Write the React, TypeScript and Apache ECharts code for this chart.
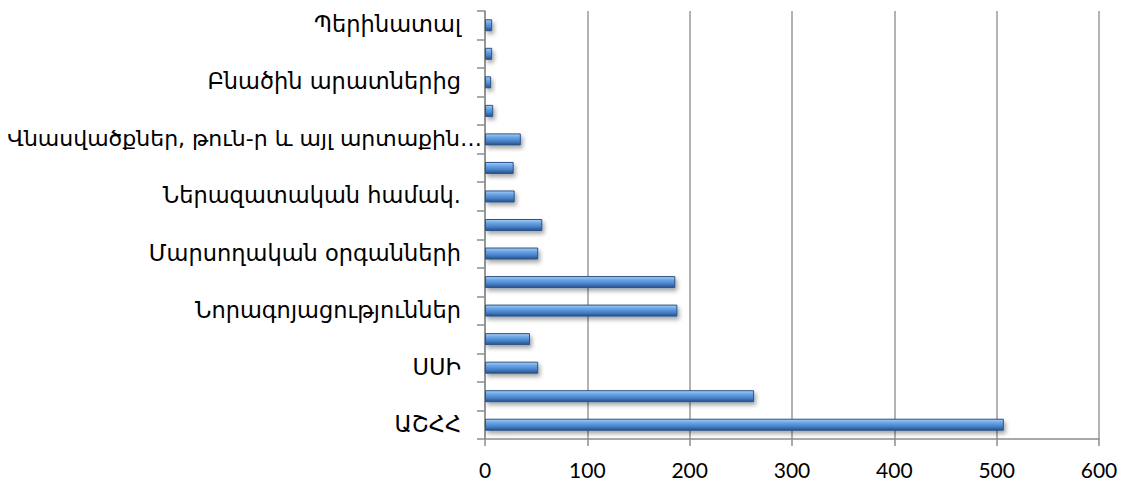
import React, { useEffect, useRef } from "react";
import * as echarts from "echarts";

const categories: string[] = [
  "ԱՇՀՀ",
  "",
  "ՍՍԻ",
  "",
  "Նորագոյացություններ",
  "",
  "Մարսողական օրգանների",
  "",
  "Ներազատական համակ.",
  "",
  "Վնասվածքներ, թուն-ր և այլ արտաքին…",
  "",
  "Բնածին արատներից",
  "",
  "Պերինատալ",
];

const values: number[] = [507, 263, 52, 44, 188, 186, 52, 56, 29, 28, 35, 8, 6, 7, 7];

const xTicks = { min: 0, max: 600, interval: 100 };

export default function App() {
  const ref = useRef<HTMLDivElement>(null);
  useEffect(() => {
    if (!ref.current) return;
    const chart = echarts.init(ref.current, null, { renderer: "svg" });
    const font = "Lato, 'DejaVu Sans', sans-serif";
    const armFont = "'DejaVu Sans', sans-serif";
    chart.setOption({
      animation: false,
      backgroundColor: "#ffffff",
      grid: {
        left: 485,
        right: 26,
        top: 11,
        bottom: 45,
        containLabel: false,
        outerBoundsMode: "none",
      },
      xAxis: {
        type: "value",
        min: xTicks.min,
        max: xTicks.max,
        interval: xTicks.interval,
        axisLine: { show: true, lineStyle: { color: "#8c8c8c", width: 1.5 } },
        axisTick: { show: true, length: 7, lineStyle: { color: "#8c8c8c", width: 1.5 } },
        splitLine: { show: true, lineStyle: { color: "#9a9a9a", width: 1.5 } },
        axisLabel: { color: "#000", fontFamily: font, fontSize: 21, margin: 20 },
      },
      yAxis: {
        type: "category",
        data: categories,
        axisLine: { show: true, lineStyle: { color: "#8c8c8c", width: 1.5 } },
        axisTick: {
          show: true,
          interval: 0,
          length: 8,
          alignWithLabel: false,
          lineStyle: { color: "#8c8c8c", width: 1.5 },
        },
        splitLine: { show: false },
        axisLabel: {
          interval: 1,
          margin: 2,
          color: "#000",
          fontFamily: armFont,
          fontSize: 22.5,
          formatter: (v: string) => (v.endsWith("…") ? `{l|${v}}` : `{n|${v}}`),
          rich: {
            n: { fontFamily: armFont, fontSize: 22.5, color: "#000", padding: [0, 22, 2, 0] },
            l: { fontFamily: armFont, fontSize: 22, color: "#000", padding: [0, 1, 2, 0] },
          },
        },
      },
      series: [
        {
          type: "bar",
          data: values,
          barWidth: 12,
          itemStyle: {
            color: new echarts.graphic.LinearGradient(0, 0, 0, 1, [
              { offset: 0, color: "#a9cdf4" },
              { offset: 0.3, color: "#6aa6e6" },
              { offset: 0.65, color: "#4a82c8" },
              { offset: 1, color: "#24528c" },
            ]),
            borderColor: "#2b5488",
            borderWidth: 1,
            shadowColor: "rgba(0,0,0,0.35)",
            shadowBlur: 4,
            shadowOffsetX: 2,
            shadowOffsetY: 3,
          },
        },
      ],
    });
    return () => chart.dispose();
  }, []);
  return (
    <div
      ref={ref}
      style={{ position: "absolute", left: 0, top: 0, width: 1125, height: 484 }}
    />
  );
}
